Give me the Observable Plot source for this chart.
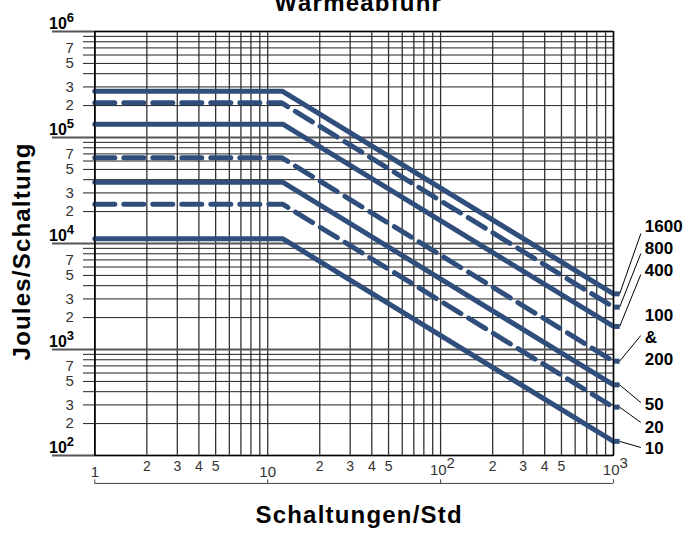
<!DOCTYPE html>
<html>
<head>
<meta charset="utf-8">
<script src="https://cdn.jsdelivr.net/npm/d3@7"></script>
<script src="https://cdn.jsdelivr.net/npm/@observablehq/plot@0.6"></script>
<style>
  html, body { margin: 0; padding: 0; background: white; }
  svg { display: block; }
</style>
</head>
<body>
<div id="chart"></div>
<script>
// ---- Data ----
const series   = ["1600", "800", "400", "100 & 200", "50", "20", "10"];
const dashed   = [false, true, false, true, false, true, false];
const flatJ    = [273000, 213000, 133000, 64300, 37900, 23500, 11100]; // Joules/Schaltung at low rates
const breakX   = [12.2, 12.0, 12.3, 12.1, 12.2, 12.2, 12.2];           // Schaltungen/Std where the curve bends
const endJ     = [3350, 2510, 1650, 776, 464, 286, 136];                 // value at 1000 Schaltungen/Std

// right-hand labels and their leader lines
const labelText = ["1600", "800", "400", "100", "&", "200", "50", "20", "10"];
const labelY    = [14450, 8970, 5560, 2094, 1298, 805, 303, 184, 116];
const leaderSeries = [0, 1, 2, 3, 4, 5, 6];
const leaderFromY  = [12400, 8050, 5100, 1355, 316, 205, 119];

// axes / grid
const xGrid = [1,2,3,4,5,6,7,8,9,10,20,30,40,50,60,70,80,90,100,200,300,400,500,600,700,800,900,1000];
const xMinorLabels = [2,3,4,5,20,30,40,50,200,300,400,500];
const xMinorText   = ["2","3","4","5","2","3","4","5","2","3","4","5"];
const xDecadeSmall = [1, 10];
const xDecadeSmallText = ["1", "10"];
const xDecadePow = [100, 1000];
const xDecadePowExp = ["2", "3"];
const yGrid = [200,300,400,500,600,700,800,900,
               2000,3000,4000,5000,6000,7000,8000,9000,
               20000,30000,40000,50000,60000,70000,80000,90000,
               200000,300000,400000,500000,600000,700000,800000,900000];
const yDecades = [100, 1000, 10000, 100000, 1000000];
const yDecadeExp = ["2", "3", "4", "5", "6"];
const yMinorLabels = [200,300,500,700,2000,3000,5000,7000,20000,30000,50000,70000,200000,300000,500000,700000];
const yMinorText   = ["2","3","5","7","2","3","5","7","2","3","5","7","2","3","5","7"];

const titleText = "Wärmeabfuhr";
const xTitle = "Schaltungen/Std";
const yTitle = "Joules/Schaltung";

const lineColor = "#2f4e7b";

// build line table
const lineData = [];
series.forEach((s, i) => {
  lineData.push({series: s, dashed: dashed[i], x: 1, y: flatJ[i]});
  lineData.push({series: s, dashed: dashed[i], x: breakX[i], y: flatJ[i]});
  lineData.push({series: s, dashed: dashed[i], x: 1000, y: endJ[i]});
});
const solidData = lineData.filter(d => !d.dashed);
const dashData  = lineData.filter(d => d.dashed);
const ends = series.map((s, i) => ({series: s, y: endJ[i]}));
const labels = labelText.map((t, i) => ({t, y: labelY[i]}));
const leaders = leaderSeries.map((k, i) => ({y1: leaderFromY[i], y2: endJ[k]}));

const LEFT_TICK_X = 0.86;    // data-x where horizontal grid ticks begin (left of frame)
const LEFT_DEC_X  = 0.569;   // data-x where decade lines begin
const STUB_X      = 1085;    // end stub
const LEADER_X    = 1439;    // leader start
const LABEL_X     = 1518;    // label start
const BRACKET_Y   = 54.5;    // bracket under x axis
const BRACKET_TICK_Y = 59;
const YTITLE_X = 0.382, YTITLE_Y = 8414;

const chart = Plot.plot({
  width: 689,
  height: 533,
  marginTop: 31,
  marginRight: 76,
  marginBottom: 78,
  marginLeft: 94.3,
  style: {fontFamily: "'Liberation Sans', Arial, Helvetica, sans-serif", background: "white", overflow: "visible"},
  x: {type: "log", domain: [1, 1000], axis: null},
  y: {type: "log", domain: [100, 1e6], axis: null},
  marks: [
    // grid
    Plot.ruleX(xGrid, {x: d => d, stroke: "#333", strokeWidth: 1.3}),
    Plot.ruleY(yGrid, {y: d => d, x1: LEFT_TICK_X, x2: 1000, stroke: "#222", strokeWidth: 1}),
    Plot.ruleY(yDecades, {y: d => d, x1: LEFT_DEC_X, x2: 1000, stroke: "#555", strokeWidth: 2.2}),
    Plot.ruleX([1, 1000], {stroke: "#000", strokeWidth: 1.5}),
    // curves
    Plot.line(solidData, {x: "x", y: "y", z: "series", stroke: lineColor, strokeWidth: 5, strokeLinejoin: "miter"}),
    Plot.line(dashData, {x: "x", y: "y", z: "series", stroke: lineColor, strokeWidth: 5, strokeDasharray: "20,9"}),
    Plot.link(ends, {x1: 1000, x2: STUB_X, y1: "y", y2: "y", stroke: lineColor, strokeWidth: 5}),
    // leaders & labels
    Plot.link(leaders, {x1: LEADER_X, y1: "y1", x2: STUB_X, y2: "y2", stroke: "#000", strokeWidth: 1}),
    Plot.text(labels, {x: LABEL_X, y: "y", text: "t", textAnchor: "start", fontSize: 17, fontWeight: "bold", fill: "#000"}),
    // y axis labels
    Plot.text(yMinorLabels, {y: d => d, text: (d, i) => yMinorText[i], frameAnchor: "left", textAnchor: "end", dx: -21, fontSize: 15, fill: "#333"}),
    Plot.text(yDecades, {y: d => d, text: () => "10", frameAnchor: "left", textAnchor: "end", lineAnchor: "bottom", dx: -28, dy: -3, fontSize: 16, fontWeight: "bold", fill: "#000"}),
    Plot.text(yDecades, {y: d => d, text: (d, i) => yDecadeExp[i], frameAnchor: "left", textAnchor: "start", lineAnchor: "bottom", dx: -28, dy: -10, fontSize: 13, fontWeight: "bold", fill: "#000"}),
    // x axis labels
    Plot.text(xMinorLabels, {x: d => d, text: (d, i) => xMinorText[i], frameAnchor: "bottom", lineAnchor: "bottom", dy: 15, fontSize: 14, fill: "#333"}),
    Plot.text(xDecadeSmall, {x: d => d, text: (d, i) => xDecadeSmallText[i], frameAnchor: "bottom", lineAnchor: "bottom", dy: 21, fontSize: 15, fill: "#333"}),
    Plot.text(xDecadePow, {x: d => d, text: () => "10", frameAnchor: "bottom", textAnchor: "end", lineAnchor: "bottom", dx: 6, dy: 19, fontSize: 15, fill: "#333"}),
    Plot.text(xDecadePow, {x: d => d, text: (d, i) => xDecadePowExp[i], frameAnchor: "bottom", textAnchor: "start", lineAnchor: "bottom", dx: 6, dy: 12, fontSize: 15, fill: "#333"}),
    // bracket under x axis
    Plot.ruleY([BRACKET_Y], {x1: 1, x2: 1000, stroke: "#444", strokeWidth: 1}),
    Plot.ruleX([1, 10, 100, 1000], {x: d => d, y1: BRACKET_Y, y2: BRACKET_TICK_Y, stroke: "#444", strokeWidth: 1}),
    // titles
    Plot.text([xTitle], {frameAnchor: "bottom", lineAnchor: "bottom", dx: 5, dy: 67, fontSize: 24, fontWeight: "bold", fill: "#000"}),
    Plot.text([yTitle], {x: YTITLE_X, y: YTITLE_Y, rotate: -90, fontSize: 24, fontWeight: "bold", fill: "#000"}),
    Plot.text([titleText], {frameAnchor: "top", lineAnchor: "bottom", dx: 4, dy: -21, fontSize: 24, fontWeight: "bold", fill: "#000"}),
    Plot.frame({stroke: "#000", strokeWidth: 1})
  ]
});
// slight tracking on the bold titles, like the reference typeface
chart.querySelectorAll("text").forEach(t => {
  const s = t.textContent;
  if (s === xTitle || s === yTitle || s === titleText) t.style.letterSpacing = "1.2px";
});
document.getElementById("chart").appendChild(chart);
</script>
</body>
</html>
